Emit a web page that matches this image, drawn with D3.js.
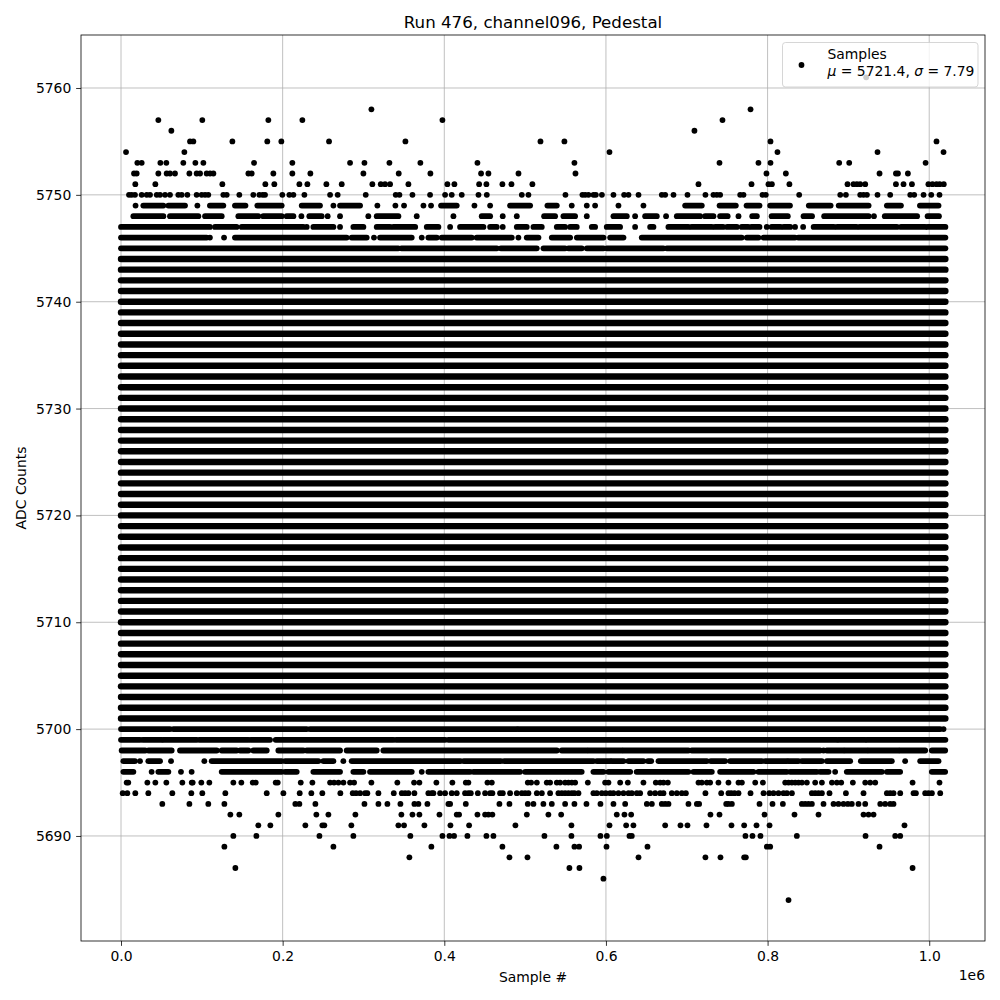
<!DOCTYPE html>
<html><head><meta charset="utf-8">
<script src="https://cdn.jsdelivr.net/npm/d3@7"></script>
<style>
body{margin:0;background:#fff}
svg{display:block}
text{font-family:"DejaVu Sans",sans-serif;fill:#000}
</style>
</head><body>
<svg id="chart" width="1000" height="1000"></svg>
<script>
// ---- axis setup (x in thousands of samples) ----
const titleText = "Run 476, channel096, Pedestal";
const xLabel = "Sample #";
const yLabel = "ADC Counts";
const xOffsetText = "1e6";
const xDomain = [-49.5, 1069];
const yDomain = [5680.17, 5764.96];
const xTickValues = [0, 200, 400, 600, 800, 1000];
const xTickLabels = ["0.0", "0.2", "0.4", "0.6", "0.8", "1.0"];
const yTickValues = [5690, 5700, 5710, 5720, 5730, 5740, 5750, 5760];
const yTickLabels = ["5690", "5700", "5710", "5720", "5730", "5740", "5750", "5760"];
const legendLabel = "Samples";
const legendMu = "5721.4";
const legendSigma = "7.79";

// ---- fully populated ADC levels (samples everywhere along the run) ----
const denseLevels = [5701,5702,5703,5704,5705,5706,5707,5708,5709,5710,5711,5712,5713,5714,5715,5716,5717,5718,5719,5720,5721,5722,5723,5724,5725,5726,5727,5728,5729,5730,5731,5732,5733,5734,5735,5736,5737,5738,5739,5740,5741,5742,5743,5744];
const denseSpan = [0, 1020];

// ---- partially populated levels: runs of consecutive samples [start, end] (k-samples) ----
const runs5749 = [[18,18],[27.6,52.4],[58.6,79.2],[94.5,94.5],[110,126.6],[141,154],[168.7,198.8],[223.6,246.2],[262.8,262.8],[271,295.8],[317.2,317.2],[339.5,339.5],[350.2,350.2],[374.2,374.2],[383.6,383.6],[396,415.4],[437.3,437.3],[456.7,456.7],[481.4,506.2],[527.6,539.2],[557.7,557.7],[576.3,576.3],[586.6,586.6],[615.5,615.5],[646.4,646.4],[698,718.6],[740.6,760.7],[774,790],[803.2,827.7],[851,878],[888,925],[947.6,965],[988.5,1011.5]];
const runs5748 = [[15.3,52.4],[60.6,95.7],[104,124.6],[145.2,169.9],[176,198.8],[205,213.3],[223.2,223.2],[233,248.3],[255.7,255.7],[271,271],[306,306],[316.4,343.2],[365.9,365.9],[411.3,411.3],[446.3,456.7],[472.3,472.3],[489.7,489.7],[523.5,537.1],[547.4,561.8],[576.3,576.3],[609.3,625.8],[636.1,636.1],[648.5,662.9],[674.4,674.4],[687.7,716.6],[722.7,733],[741.3,750.6],[764,764],[781,786.7],[805,825],[844.5,855],[870,925],[931.6,931.6],[945,985],[998,1012]];
const runs5747 = [[0,110],[116.3,143],[149.3,225.6],[229.8,229.8],[238,262.8],[271,271],[287.5,299.9],[316.4,332.9],[337,364],[378.3,392.7],[407.2,407.2],[419.5,448.4],[456.7,464.9],[472.3,472.3],[489.7,502],[510.3,520.6],[539.2,549.5],[555.7,563.9],[582.5,586.6],[601,617.5],[636.1,636.1],[654.7,658.8],[677.3,702],[706,731],[735,745],[750,762],[768,776],[780,790],[799,799],[805,816],[820,828],[834,834],[844,844],[857,882],[886,910],[914,960],[965,995],[998,1020]];
const runs5746 = [[0,106],[110,110],[127.5,127.5],[141,279.2],[285.4,304],[313,313],[320.5,359.7],[372.1,372.1],[380.3,390.7],[396.8,434],[440,483.5],[491.7,491.7],[502,516.5],[533,555.7],[564,597],[605.2,621.7],[644.3,768],[774.3,788.7],[795,834],[838,1020]];
const runs5745 = [[0,343],[347,465],[470,514.4],[522.7,549.5],[553.6,570.1],[576.3,597],[601,671.1],[675.3,1020]];
const runs5700 = [[0,60.6],[64.8,229.8],[233.9,489.7],[491.7,1013.5],[1017.7,1017.7]];
const runs5699 = [[0,23.5],[26.8,50.3],[52.4,93.6],[96.9,157.6],[160.5,184.4],[191.4,337],[340.3,401],[405,885.7],[887.7,920.7],[922.8,1020]];
const runs5698 = [[0.8,30],[34,62.7],[73,118.4],[124.6,143],[147.3,157.6],[163.8,180.3],[194.7,225.6],[229.8,271],[279.2,316.4],[324.6,539.2],[545.3,576.3],[578.4,619.6],[621.7,702],[706.2,865],[869.2,869.2],[873.3,894],[896,922.8],[924.9,962],[964,995],[1003.2,1019.7]];
const runs5697 = [[2.9,17.3],[23.5,23.5],[33.8,48.3],[61.9,61.9],[103.1,103.1],[112.2,198.8],[203,244.2],[250.4,262.8],[275.1,275.1],[285.4,420],[424,470],[474,584.5],[588.7,605.2],[607.2,621.7],[627.8,646.4],[652,656],[665,724.8],[729.7,747.5],[753.7,792.9],[797,823.8],[825.9,838.2],[842.4,867.1],[873.3,902.2],[915.4,953.7],[970.2,970.2],[988.8,1011.5]];
const runs5696 = [[2.9,15.3],[37.9,37.9],[46.2,58.6],[74.2,74.2],[87.4,87.4],[124.6,198.8],[203,217.4],[238,271],[287.5,299.9],[308.1,359.7],[372.1,372.1],[380.3,431.9],[436,493.8],[500,570],[584.5,597],[603,630],[638,702],[708.3,731],[741.3,782.5],[788.7,823.8],[828,861],[865,875.4],[883.6,883.6],[898,941.4],[947.6,964],[1003.2,1019.7]];

// ---- sparse levels: individual samples (k-samples) ----
const pts5761 = [922];
const pts5758 = [309.8, 778.9];
const pts5757 = [46.2, 100.6, 182.3, 224.4, 397.7, 744.2];
const pts5756 = [62.3, 709.5];
const pts5755 = [85.4, 89.5, 137.8, 181, 198.4, 257.4, 351.9, 519, 548.6, 803.6, 1009];
const pts5754 = [6.2, 78.4, 604.4, 812.2, 936, 1017.7];
const pts5753 = [20.2, 25.6, 48.7, 56.1, 77.1, 92, 101.9, 164.6, 212, 283.4, 301.2, 332.1, 370.4, 441, 561, 740.5, 788.7, 803.6, 888.6, 901, 995.5];
const pts5752 = [16.1, 19.4, 46.2, 56.5, 60.6, 66.8, 84.6, 93.6, 97.8, 106, 110.2, 114.3, 157.6, 161.7, 188.5, 212, 234.3, 299.9, 343.6, 382.8, 445.5, 454.6, 491.8, 562.3, 798.6, 822.6, 938.5, 958.8, 961.3, 973.6];
const pts5751 = [17.7, 42.5, 125.4, 178.6, 189.7, 220.7, 230.6, 254.1, 273.1, 311, 321.4, 326.7, 332.9, 355.6, 403.8, 412.5, 443.1, 452.1, 471.9, 483.1, 509, 714.5, 780.1, 801.1, 805.3, 827, 898.9, 906.3, 910.5, 914.6, 920.8, 958.8, 968.2, 978.6, 999, 1004, 1009, 1013, 1018];
const pts5750 = [9.9, 13.2, 17.3, 25.6, 31.8, 35.9, 44.2, 48.3, 54.5, 60.6, 70.9, 75.1, 82.1, 93.6, 99.8, 104, 108, 126.6, 130.8, 146.4, 163.7, 171.2, 175.3, 178.2, 199.6, 208.3, 213.3, 226.9, 258.7, 268.1, 302.8, 339.9, 344.5, 360.6, 382.4, 401, 409.2, 421.6, 442.3, 452.6, 495.9, 504.1, 549.9, 570.9, 574.3, 578.4, 584.6, 587.5, 595, 609.3, 622.5, 627.9, 640.3, 669.1, 673.3, 683.6, 700.9, 723.1, 733, 737.2, 741.3, 766.1, 770.2, 793.7, 797.8, 839.1, 889.9, 896.9, 914.6, 918.7, 922.9, 936, 951.7, 976.5, 981.4, 993, 1002.5, 1012.7];
const pts5695 = [7, 9, 32.6, 42.5, 56.1, 75.9, 87.5, 88.7, 99.4, 109.3, 139, 148.9, 163, 166.7, 191.4, 193.9, 222.4, 236.8, 258.7, 263.6, 269, 275.2, 283.4, 288.4, 309.8, 341.9, 362.6, 369.2, 390.2, 410, 426.6, 429.8, 453.4, 458.8, 503.3, 507.4, 514.5, 526.8, 530.9, 539.2, 543.3, 549.5, 553.6, 557.8, 561.9, 577.6, 599, 603.1, 617.6, 627.1, 646.4, 661.7, 667.1, 671.2, 676.6, 714.5, 718.6, 724.8, 728.9, 739.2, 751.6, 764, 768.2, 784.7, 794.2, 821.8, 825.9, 830, 834.2, 838.3, 842.5, 848.6, 858.9, 867.2, 879.6, 885.7, 891.1, 905.5, 920.8, 927, 933.2, 979.4, 1012.7];
const pts5694 = [2.1, 7.8, 17.7, 33.8, 63.5, 87, 100.6, 129.1, 180.3, 200.9, 221.1, 235.5, 249.1, 271.4, 286.7, 290.8, 295.8, 302, 304.8, 318.5, 337.5, 347.4, 351.5, 355.6, 363, 380.3, 384.5, 386.5, 394.8, 401, 409.2, 415.4, 425.7, 429.8, 432.8, 441.5, 450.5, 456.7, 459.5, 469, 472.4, 481.4, 489.7, 495.9, 500, 504.1, 514.5, 520.7, 530.9, 541.2, 545.4, 549.5, 553.6, 557.8, 561, 566, 584.5, 588.7, 594.9, 599.8, 605.2, 609.3, 615.5, 621.7, 627.9, 632, 638.2, 642.3, 654.7, 660.9, 667.1, 671.2, 681.5, 687.7, 693.9, 698.9, 723.1, 742.6, 751.6, 755, 759.1, 764, 778.9, 795, 802, 807.3, 813.5, 819.7, 823.9, 830.1, 854.8, 858.9, 863, 867.2, 876.6, 896.9, 918.7, 947.6, 951.7, 955.8, 964.1, 980.6, 983.5, 995, 999.1, 1003.3, 1013.6];
const pts5693 = [51.1, 84.6, 108, 127.9, 215.7, 220.7, 240.5, 301.2, 318.5, 329.6, 345.7, 363, 368, 379.1, 405.1, 407.2, 426.6, 468.2, 480.6, 503.3, 510.3, 522.6, 533, 549.5, 561, 575.9, 593.2, 609.3, 623.8, 650.6, 656.8, 669.1, 673.3, 677.4, 702.1, 712.5, 715.3, 748.8, 751.6, 755.8, 790, 806.1, 818.9, 842.4, 846.5, 850.6, 854.8, 869.2, 881.6, 887.7, 893.9, 899.3, 904.2, 912.5, 920.8, 939.4, 945.5, 951.7, 955.8];
const pts5692 = [135.3, 146.4, 194.7, 241.7, 256.6, 290, 346.9, 360.6, 369.2, 394, 415.4, 418.3, 441, 450.5, 454.6, 459.5, 502.1, 528.8, 544.6, 613.4, 622.9, 631.2, 729.3, 740.5, 796.2, 833.3, 863, 918.7, 924.9, 931.1];
const pts5691 = [169.9, 184.8, 228.1, 249.1, 251.6, 285, 343.2, 350.2, 375.4, 407.6, 430.7, 488, 557.3, 604.4, 625, 634, 673.3, 692.2, 700.9, 724.4, 755.3, 771, 786.3, 802.4, 969.4];
const pts5690 = [139, 167.5, 245.5, 287.5, 358, 397.7, 406.4, 412.1, 428.6, 452.1, 460.8, 523.9, 557.3, 593.2, 601.1, 629.1, 632, 772.6, 781.3, 791.2, 836.2, 921.2, 957.9, 964.1];
const pts5689 = [127.9, 262.8, 384, 471.9, 538.7, 561, 566.8, 600.7, 651.4, 799.1, 803.2, 938.5];
const pts5688 = [356.8, 480.6, 502.9, 640.3, 723.1, 741.7, 771, 773.1];
const pts5687 = [141.5, 554.8, 567.2, 979.4];
const pts5686 = [596.9];
const pts5684 = [825.9];

// tables built from the arrays above
const runRows = [[5749, runs5749],[5748, runs5748],[5747, runs5747],[5746, runs5746],[5745, runs5745],
                 [5700, runs5700],[5699, runs5699],[5698, runs5698],[5697, runs5697],[5696, runs5696]];
const pointRows = [[5761, pts5761],[5758, pts5758],[5757, pts5757],[5756, pts5756],[5755, pts5755],[5754, pts5754],
                   [5753, pts5753],[5752, pts5752],[5751, pts5751],[5750, pts5750],[5695, pts5695],[5694, pts5694],
                   [5693, pts5693],[5692, pts5692],[5691, pts5691],[5690, pts5690],[5689, pts5689],[5688, pts5688],
                   [5687, pts5687],[5686, pts5686],[5684, pts5684]];

// ---- drawing ----
const svg = d3.select("#chart");
const M = {l: 81, r: 985, t: 35, b: 941};
const x = d3.scaleLinear().domain(xDomain).range([M.l, M.r]);
const y = d3.scaleLinear().domain(yDomain).range([M.b, M.t]);
const R = 2.9;
const gridColor = "#b0b0b0";
const tickLen = 4.86, tickPad = 4.86, fs = 13.9;

svg.append("rect").attr("width", 1000).attr("height", 1000).attr("fill", "#fff");

// grid
const grid = svg.append("g");
grid.selectAll("line.gx").data(xTickValues).join("line").attr("class","gx")
  .attr("x1", d => x(d)).attr("x2", d => x(d)).attr("y1", M.t).attr("y2", M.b)
  .attr("stroke", gridColor).attr("stroke-width", 0.8);
grid.selectAll("line.gy").data(yTickValues).join("line").attr("class","gy")
  .attr("y1", d => y(d)).attr("y2", d => y(d)).attr("x1", M.l).attr("x2", M.r)
  .attr("stroke", gridColor).attr("stroke-width", 0.8);

// data
const marks = svg.append("g");
marks.selectAll("line.dense").data(denseLevels).join("line").attr("class","dense")
  .attr("x1", x(denseSpan[0])).attr("x2", x(denseSpan[1]))
  .attr("y1", d => y(d)).attr("y2", d => y(d))
  .attr("stroke", "#000").attr("stroke-width", 2*R + 0.6).attr("stroke-linecap", "round");

const runData = runRows.flatMap(([lvl, runs]) => runs.map(r => ({lvl, s: r[0], e: r[1]})));
marks.selectAll("line.run").data(runData.filter(d => d.e > d.s)).join("line").attr("class","run")
  .attr("x1", d => x(d.s)).attr("x2", d => x(d.e))
  .attr("y1", d => y(d.lvl)).attr("y2", d => y(d.lvl))
  .attr("stroke", "#000").attr("stroke-width", 2*R).attr("stroke-linecap", "round");

const ptData = runData.filter(d => d.e <= d.s).map(d => ({lvl: d.lvl, v: d.s}))
  .concat(pointRows.flatMap(([lvl, pts]) => pts.map(v => ({lvl, v}))));
marks.selectAll("circle").data(ptData).join("circle")
  .attr("cx", d => x(d.v)).attr("cy", d => y(d.lvl)).attr("r", R).attr("fill", "#000");

// spines
svg.append("rect").attr("x", M.l).attr("y", M.t).attr("width", M.r - M.l).attr("height", M.b - M.t)
  .attr("fill", "none").attr("stroke", "#000").attr("stroke-width", 0.8);

// axes
const xAxis = d3.axisBottom(x).tickValues(xTickValues)
  .tickFormat((d, i) => xTickLabels[i]).tickSize(tickLen).tickPadding(tickPad);
const gx = svg.append("g").attr("transform", `translate(0,${M.b})`).call(xAxis);
const yAxis = d3.axisLeft(y).tickValues(yTickValues)
  .tickFormat((d, i) => yTickLabels[i]).tickSize(tickLen).tickPadding(tickPad);
const gy = svg.append("g").attr("transform", `translate(${M.l},0)`).call(yAxis);
[gx, gy].forEach(g => {
  g.select(".domain").remove();
  g.selectAll(".tick line").attr("stroke", "#000").attr("stroke-width", 0.8);
  g.selectAll(".tick text").attr("font-family", "DejaVu Sans").attr("font-size", fs).attr("fill", "#000");
});

// labels
svg.append("text").attr("x", (M.l + M.r) / 2).attr("y", 27.5).attr("text-anchor", "middle")
  .attr("font-size", 16.67).text(titleText);
svg.append("text").attr("x", (M.l + M.r) / 2).attr("y", 982).attr("text-anchor", "middle")
  .attr("font-size", fs).text(xLabel);
svg.append("text").attr("x", M.r).attr("y", 980).attr("text-anchor", "end")
  .attr("font-size", fs).text(xOffsetText);
svg.append("text").attr("transform", `translate(26,${(M.t + M.b) / 2}) rotate(-90)`)
  .attr("text-anchor", "middle").attr("font-size", fs).text(yLabel);

// legend
const lg = svg.append("g");
lg.append("rect").attr("x", 782.5).attr("y", 42.5).attr("width", 195.5).attr("height", 44.5)
  .attr("rx", 3).attr("ry", 3).attr("fill", "rgba(255,255,255,0.8)")
  .attr("stroke", "rgba(204,204,204,0.8)").attr("stroke-width", 1);
lg.append("circle").attr("cx", 801.5).attr("cy", 65).attr("r", R).attr("fill", "#000");
lg.append("text").attr("x", 827.5).attr("y", 59).attr("font-size", fs).text(legendLabel);
const t2 = lg.append("text").attr("x", 827.5).attr("y", 76).attr("font-size", fs);
t2.append("tspan").attr("font-style", "italic").text("\u03bc");
t2.append("tspan").text(" = " + legendMu + ", ");
t2.append("tspan").attr("font-style", "italic").text("\u03c3");
t2.append("tspan").text(" = " + legendSigma);
</script>
</body></html>
